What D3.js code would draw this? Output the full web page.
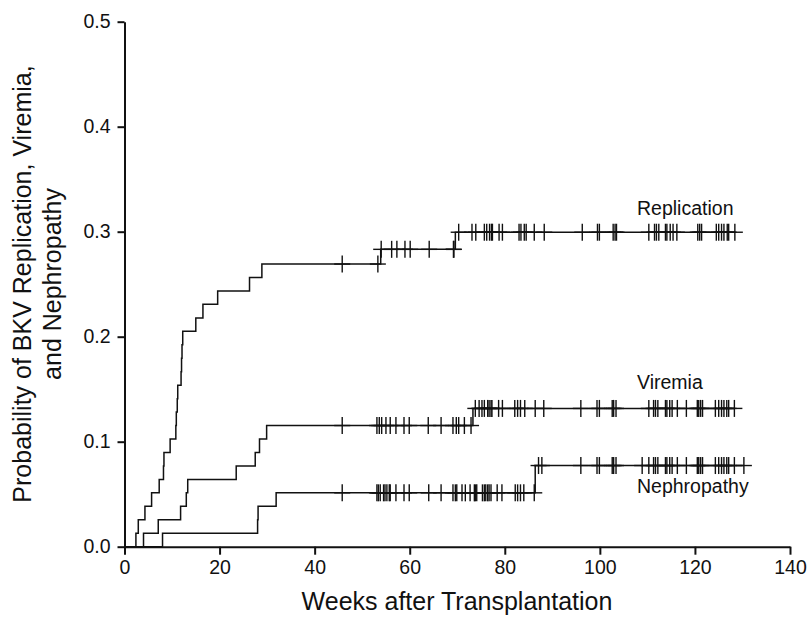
<!DOCTYPE html>
<html><head><meta charset="utf-8">
<script src="https://cdn.jsdelivr.net/npm/d3@7/dist/d3.min.js"></script>
<style>
body{margin:0;background:#fff}
text{font-family:"Liberation Sans",Arial,Helvetica,sans-serif;fill:#111}
</style>
</head><body>
<svg id="chart" width="809" height="617"></svg>
<script>
// ---- data ----
const xTicks = [0, 20, 40, 60, 80, 100, 120, 140];
const yTicks = [0, 0.1, 0.2, 0.3, 0.4, 0.5];

const repWeeks = [0, 2.4, 2.9, 4.3, 5.7, 7.3, 8.2, 8.3, 9.6, 10.8, 10.9, 11.1, 11.2, 11.9, 12.0, 12.1, 12.25, 15.0, 16.5, 19.6, 26.3, 28.9, 53.9, 69.6];
const repProb  = [0, 0.0128, 0.0256, 0.0385, 0.0513, 0.0641, 0.0769, 0.0897, 0.1026, 0.1154, 0.1282, 0.141, 0.1538, 0.1667, 0.1795, 0.1923, 0.2051, 0.2179, 0.2308, 0.2436, 0.2564, 0.2692, 0.2832, 0.2995];
const repCensored = [45.8, 53.3, 54.0, 56.2, 57.3, 59.0, 60.1, 64.1, 69.2, 69.3, 70.3, 73.1, 73.9, 75.7, 76.2, 76.8, 77.2, 77.4, 78.8, 79.5, 83.0, 83.4, 84.1, 84.5, 86.2, 88.3, 96.3, 99.5, 99.9, 102.8, 103.2, 103.5, 110.3, 111.5, 111.9, 112.4, 113.8, 114.1, 114.8, 115.4, 116.2, 120.6, 121.0, 121.4, 124.5, 125.0, 125.6, 126.1, 126.8, 127.1, 128.4];

const virWeeks = [0, 4.0, 7.1, 11.8, 13.0, 13.3, 23.5, 27.5, 28.4, 29.9, 73.3];
const virProb  = [0, 0.0128, 0.0256, 0.0385, 0.0513, 0.0641, 0.0769, 0.0897, 0.1026, 0.1154, 0.1317];
const virCensored = [45.8, 53.1, 53.6, 54.1, 55.0, 55.9, 57.1, 58.8, 59.9, 63.9, 66.6, 69.1, 69.8, 70.3, 71.5, 72.9, 73.8, 74.6, 75.2, 75.7, 76.4, 76.7, 77.1, 77.3, 78.7, 79.5, 82.1, 82.7, 83.3, 84.2, 86.4, 88.2, 96.0, 99.4, 99.9, 102.6, 102.9, 103.4, 110.3, 111.3, 111.7, 112.2, 113.8, 114.1, 114.7, 115.2, 116.3, 118.2, 120.5, 120.8, 121.2, 121.6, 124.3, 125.0, 125.6, 126.1, 126.7, 127.1, 128.3];

const nepWeeks = [0, 8.0, 28.0, 28.1, 31.9, 86.4];
const nepProb  = [0, 0.0128, 0.0256, 0.0385, 0.0513, 0.0773];
const nepCensored = [45.8, 53.1, 53.4, 53.8, 54.5, 54.8, 55.2, 55.7, 55.9, 57.1, 58.8, 59.9, 64.0, 66.6, 69.1, 69.6, 69.9, 71.0, 71.7, 72.7, 73.6, 73.8, 74.1, 75.3, 75.7, 76.0, 76.4, 76.7, 77.1, 78.4, 79.4, 82.2, 82.7, 83.3, 84.0, 86.2, 87.1, 87.8, 96.0, 99.4, 99.9, 102.6, 102.9, 103.4, 108.9, 110.3, 111.3, 111.7, 112.2, 113.8, 114.1, 114.7, 115.2, 116.3, 118.2, 120.5, 120.8, 121.2, 121.6, 124.3, 125.0, 125.6, 126.1, 126.7, 127.1, 128.3, 130.3];

const seriesNames = ["Replication", "Viremia", "Nephropathy"];

// ---- chart ----
const svg = d3.select("#chart");
const x = d3.scaleLinear().domain([0, 140]).range([124.5, 790]);
const y = d3.scaleLinear().domain([0, 0.5]).range([546.7, 21.7]);

const series = [
  {name: seriesNames[0], weeks: repWeeks, prob: repProb, cens: repCensored, lx: 637, ly: 215},
  {name: seriesNames[1], weeks: virWeeks, prob: virProb, cens: virCensored, lx: 637, ly: 389},
  {name: seriesNames[2], weeks: nepWeeks, prob: nepProb, cens: nepCensored, lx: 637, ly: 493}
];

function levelAt(s, t) {
  let p = 0;
  for (let i = 0; i < s.weeks.length; i++) if (s.weeks[i] <= t) p = s.prob[i];
  return p;
}

const line = d3.line().x(d => x(d[0])).y(d => y(d[1])).curve(d3.curveStepAfter);

series.forEach(s => {
  const pts = s.weeks.map((w, i) => [w, s.prob[i]]);
  const last = d3.max(s.cens);
  pts.push([last, levelAt(s, last)]);
  svg.append("path").attr("d", line(pts))
    .attr("fill", "none").attr("stroke", "#111").attr("stroke-width", 1.5);
  const g = svg.append("g").attr("stroke", "#111").attr("stroke-width", 1.4);
  s.cens.forEach(t => {
    const cx = x(t), cy = y(levelAt(s, t));
    g.append("line").attr("x1", cx).attr("x2", cx).attr("y1", cy - 8.5).attr("y2", cy + 8.5);
    g.append("line").attr("x1", cx - 8).attr("x2", cx + 8).attr("y1", cy).attr("y2", cy);
  });
  svg.append("text").attr("x", s.lx).attr("y", s.ly)
    .style("font-size", "19.5px").text(s.name);
});

// axes
const xAxis = svg.append("g").attr("transform", `translate(0,${y(0)})`)
  .call(d3.axisBottom(x).tickValues(xTicks).tickSize(8).tickSizeOuter(0).tickPadding(5).tickFormat(d3.format("d")));
const yAxis = svg.append("g").attr("transform", `translate(${x(0)},0)`)
  .call(d3.axisLeft(y).tickValues(yTicks).tickSize(7).tickSizeOuter(0).tickPadding(7).tickFormat(d3.format(".1f")));
[xAxis, yAxis].forEach(a => {
  a.selectAll("path,line").attr("stroke", "#111").attr("stroke-width", 2);
  a.selectAll("text").style("font-size", "19.5px")
    .style("font-family", '"Liberation Sans",Arial,Helvetica,sans-serif').attr("fill", "#111");
});

svg.append("text").attr("x", 457).attr("y", 610).attr("text-anchor", "middle")
  .style("font-size", "25px").text("Weeks after Transplantation");

const yt = svg.append("text").attr("transform", "translate(31,284) rotate(-90)")
  .attr("text-anchor", "middle").style("font-size", "25px");
yt.append("tspan").attr("x", 0).attr("y", 0).text("Probability of BKV Replication, Viremia,");
yt.append("tspan").attr("x", 0).attr("y", 30).text("and Nephropathy");
</script>
</body></html>
